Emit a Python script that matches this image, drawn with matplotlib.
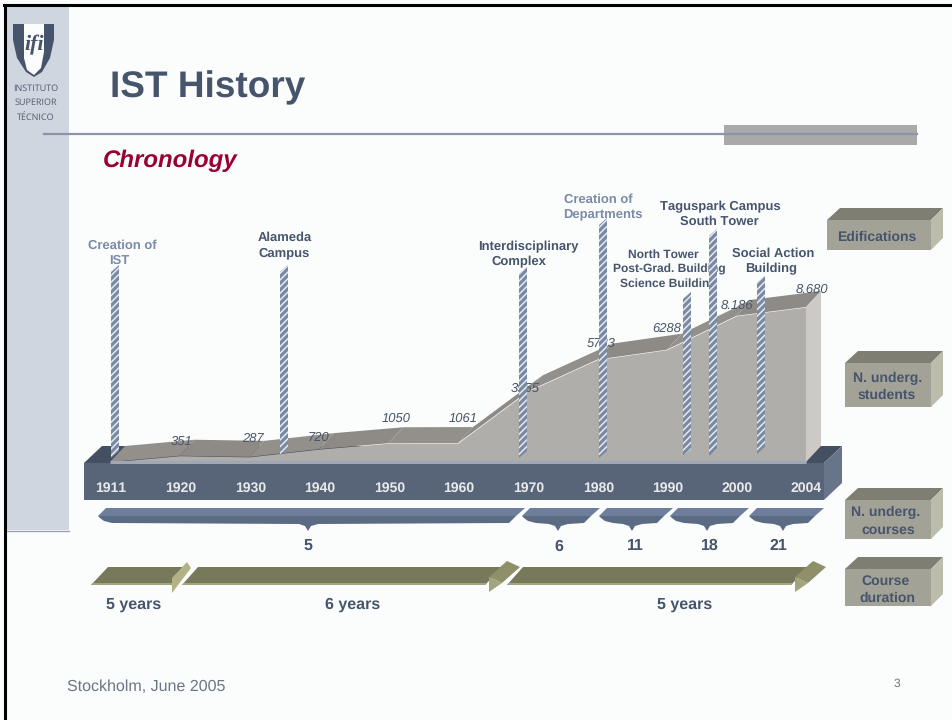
import matplotlib
matplotlib.use('Agg')
import matplotlib.pyplot as plt
from matplotlib.patches import Polygon, Rectangle

plt.rcParams['font.family'] = ['Liberation Sans', 'DejaVu Sans']
plt.rcParams['text.hinting'] = 'no_hinting'
plt.rcParams['text.hinting_factor'] = 1
plt.rcParams['hatch.color'] = '#e6eaef'
plt.rcParams['hatch.linewidth'] = 1.1

# data
years = ['1911', '1920', '1930', '1940', '1950', '1960', '1970', '1980', '1990', '2000', '2004']
students = [0, 351, 287, 720, 1050, 1061, 3955, 5733, 6288, 8186, 8680]
student_labels = ['351', '287', '720', '1050', '1061', '3955', '5733', '6288', '8.186', '8.680']
courses = ['5', '6', '11', '18', '21']
durations = ['5 years', '6 years', '5 years']
milestones = [['Creation of', 'IST'], ['Alameda', 'Campus'], ['Interdisciplinary', 'Complex'],
              ['Creation of', 'Departments'], ['North Tower', 'Post-Grad. Building', 'Science Building'],
              ['Taguspark Campus', 'South Tower'], ['Social Action', 'Building']]
side_labels = [['Edifications'], ['N. underg.', 'students'], ['N. underg.', 'courses'], ['Course', 'duration']]

# layout, in slide pixels
W, H = 952, 720
X0, DX = 110, 69.6
Y0, PX_PER_STUDENT = 462, 155 / 8680
DEPTH_X, DEPTH_Y = 15, 16
label_x = [182, 253, 319, 396, 463, 525, 601, 667, 737, 812]
label_y = [442, 439, 438, 419, 419, 389, 344, 329, 306, 290]
mile_x = [115, 284, 523, 603, 687, 713, 761]
mile_top = [265, 265, 267, 218, 292, 229, 276]
mile_bot = [458, 455, 458, 458, 456, 456, 454]
mile_text_x = [[122, 119], [285, 284], [528, 519], [598, 603], [663, 669, 668], [720, 719], [773, 771]]
mile_text_y = [245.5, 237.5, 246.5, 199.5, 254.5, 206.5, 253.5]
mile_text_c = ['#7b8aa5', '#46546c', '#46546c', '#7b8aa5', '#46546c', '#46546c', '#46546c']
mile_text_s = [9.6, 9.6, 9.6, 9.6, 8.75, 9.6, 9.6]
brace_l = [98, 522, 599, 670, 749]
brace_r = [525, 600, 673, 749, 824]
brace_tip = [308, 558, 632, 707, 783]
course_x = [308, 559, 635, 710, 778]
course_y = [545, 546, 545, 545, 545]
box_l = [827, 845, 845, 845]
box_top = [220, 363, 500, 569]
box_bot = [250, 407, 539, 606]
box_text_x = [[877], [888, 887], [886, 888], [886, 887]]
box_text_y = [237, 378, 512, 581]
box_pitch = [0, 17, 18, 17]

fig = plt.figure(figsize=(W / 100, H / 100), dpi=100, facecolor='#fbfdfd')


def layer(z):
    a = fig.add_axes([0, 0, 1, 1], zorder=z)
    a.set_xlim(0, W)
    a.set_ylim(H, 0)
    a.axis('off')
    return a


def poly(a, pts, color, z=2, **kw):
    a.add_patch(Polygon(pts, closed=True, facecolor=color, edgecolor='none', zorder=z, **kw))


bg = layer(0)
top = layer(2)

# slide frame
bg.add_patch(Rectangle((6, 6), 63, 524, facecolor='#cfd6e0', edgecolor='none'))
bg.plot([6, 69], [530.5, 530.5], color='#9aa3b3', lw=1)
bg.add_patch(Rectangle((724, 125), 193, 20, facecolor='#a9a9a9', edgecolor='none'))
bg.plot([44, 917], [133.5, 133.5], color='#8b94a8', lw=1.6, zorder=3)
bg.plot([5, 5], [5, H], color='black', lw=2.2)
bg.plot([4, W], [5, 5], color='black', lw=2.2)

# logo
poly(bg, [(13, 24), (54, 24), (54, 40), (50, 58), (42, 72), (34, 77), (26, 72), (17, 58), (13, 40)], '#46546c')
poly(bg, [(24, 24), (44, 24), (44, 52), (41, 68), (34, 75), (27, 70), (24, 58)], '#fbfdfd', z=3)
bg.text(34, 45, 'ifi', family='Liberation Serif', style='italic', fontweight='bold', fontsize=16, color='#46546c',
        ha='center', va='center', zorder=4)
for t, y in zip(['INSTITUTO', 'SUPERIOR', 'TÉCNICO'], [88.5, 103, 118]):
    bg.text(35.5, y, t, family='Open Sans', fontsize=6.6, color='#4f5a6c', ha='center', va='center')

bg.text(110, 87.5, 'IST History', fontsize=26.9, fontweight='bold', color='#46546c', va='center')
bg.text(103, 161, 'Chronology', fontsize=17.4, fontweight='bold', style='italic', color='#9a0033', va='center')
bg.text(67, 687, 'Stockholm, June 2005', fontsize=11.4, color='#6b7585', va='center')
bg.text(897, 684, '3', fontsize=8.5, color='#6b7585', ha='center', va='center')

# timeline band
poly(bg, [(84, 463), (102, 446), (842, 446), (824, 463)], '#454f62')
poly(bg, [(84, 463), (824, 463), (824, 500), (84, 500)], '#586478')
poly(bg, [(824, 463), (842, 446), (842, 483), (824, 500)], '#68748a')

# students area, on its own value scale
ax = fig.add_axes([0, 0, 1, 1], zorder=1)
ax.set_xlim((0 - X0) / DX, (W - X0) / DX)
ax.set_ylim((Y0 - H) / PX_PER_STUDENT, Y0 / PX_PER_STUDENT)
ax.axis('off')
idx = list(range(len(years)))
dx = DEPTH_X / DX
dy = DEPTH_Y / PX_PER_STUDENT
ax.fill_between(idx, 0, students, color='#b0aeab', lw=0, zorder=2)
for i in idx[:-1]:
    shade = '#8e8a86' if i % 2 else '#93908b'
    poly(ax, [(i, students[i]), (i + 1, students[i + 1]), (i + 1 + dx, students[i + 1] + dy), (i + dx, students[i] + dy)], shade, z=3)
poly(ax, [(idx[-1], 0), (idx[-1], students[-1]), (idx[-1] + dx, students[-1] + dy), (idx[-1] + dx, dy)], '#cdc9c6', z=3)
ax.plot([0, idx[-1]], [0, 0], color='#a0a8b5', lw=2.2, zorder=4, solid_capstyle='butt')

for i, y in enumerate(years):
    top.text(X0 + DX * i + (1 if i < 10 else 0), 488, y, fontsize=10.4, fontweight='bold', color='#e8e9ea', ha='center', va='center')

for s, x, y in zip(student_labels, label_x, label_y):
    top.text(x, y, s, fontsize=9.7, style='italic', color='#4a5568', ha='center', va='center', zorder=1)

for lines, xs, y, c, s in zip(milestones, mile_text_x, mile_text_y, mile_text_c, mile_text_s):
    for k, (t, x) in enumerate(zip(lines, xs)):
        top.text(x, y + 15 * k, t, fontsize=s, fontweight='bold', color=c, ha='center', va='center', zorder=1)

# milestone columns
for x, t, b in zip(mile_x, mile_top, mile_bot):
    top.add_patch(Polygon([(x - 4, t + 7), (x + 4, t), (x + 4, b - 7), (x - 4, b)], closed=True,
                          facecolor='#7a89a3', edgecolor='#e6eaef', hatch='/////', lw=0, zorder=3))

# course braces
for l, r, tip, c, cx, cy in zip(brace_l, brace_r, brace_tip, courses, course_x, course_y):
    poly(top, [(l, 516), (l + 8, 508), (r, 508), (r - 9, 516)], '#6e7f9c')
    poly(top, [(l, 516), (r - 9, 516), (r - 16, 523), (tip + 10, 524), (tip + 3, 526), (tip, 531), (tip - 3, 526), (tip - 9, 524),
               (l + 14, 523), (l + 6, 521), (l + 2, 518)], '#5c6b84')
    top.text(cx, cy + 1, c, fontsize=11.7, fontweight='bold', color='#46546c', ha='center', va='center')

# course duration arrows
poly(top, [(91, 585), (108, 567), (190, 567), (172, 585)], '#78785a')
poly(top, [(91, 585), (172, 585), (172, 583), (93, 583)], '#a3a37c', z=3)
poly(top, [(172, 578), (187, 562), (191, 568), (172, 593)], '#b2b286', z=4)
for l, r in [(182, 502), (507, 808)]:
    poly(top, [(l, 585), (l + 16, 567), (r, 567), (r - 17, 585)], '#78785a')
    poly(top, [(l, 585), (r - 17, 585), (r - 15, 583), (l + 2, 583)], '#a3a37c', z=3)
    poly(top, [(r - 13, 577), (r + 5, 561), (r + 18, 567), (r, 583)], '#8f8f69', z=4)
    poly(top, [(r - 13, 577), (r, 583), (r - 13, 592)], '#a3a37c', z=4)
for t, x in zip(durations, [134, 353, 685]):
    top.text(x, 604.5, t, fontsize=11.3, fontweight='bold', color='#46546c', ha='center', va='center')

# legend boxes
for lines, xs, y, p, l, a, b in zip(side_labels, box_text_x, box_text_y, box_pitch, box_l, box_top, box_bot):
    r = 931
    poly(top, [(l, a), (l + 13, a - 12), (r + 12, a - 12), (r, a)], '#7f7e72')
    poly(top, [(l, a), (r, a), (r, b), (l, b)], '#a3a297')
    poly(top, [(r, a), (r + 12, a - 12), (r + 12, b - 12), (r, b)], '#bcbcad')
    for k, (t, x) in enumerate(zip(lines, xs)):
        top.text(x, y + p * k, t, fontsize=10.4, fontweight='bold', color='#46546c', ha='center', va='center', zorder=4)

fig.savefig('out.png', dpi=100, facecolor=fig.get_facecolor())
